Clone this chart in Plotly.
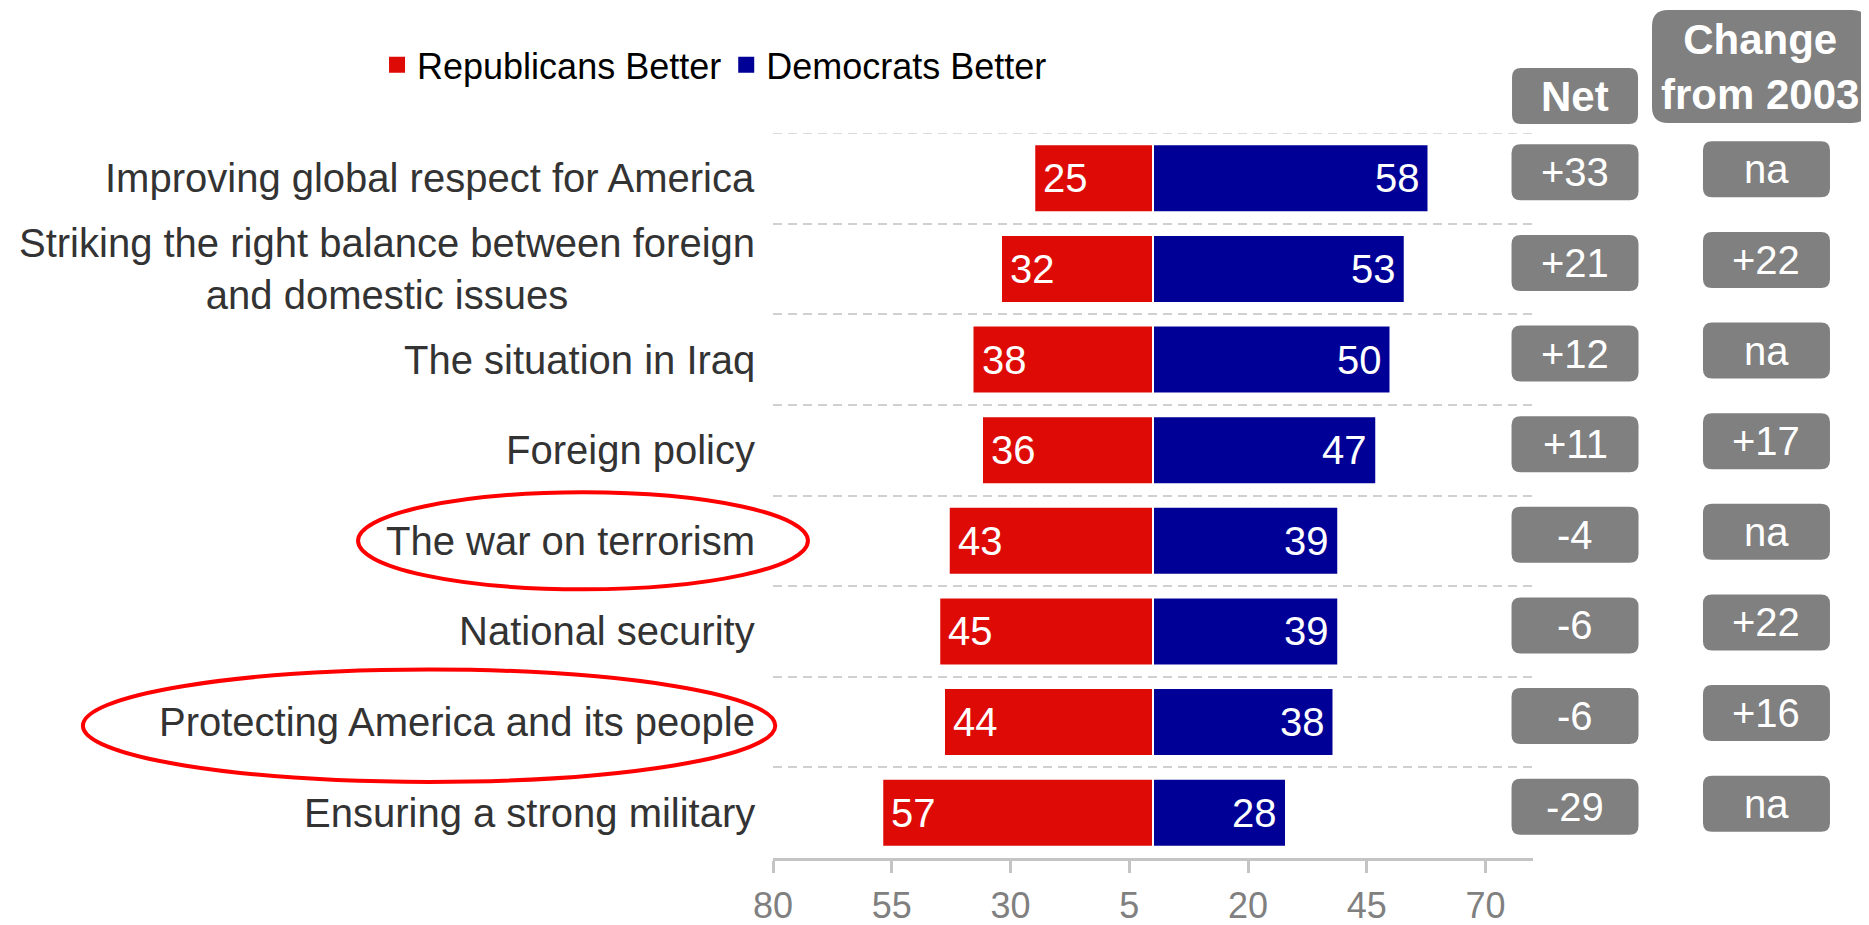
import plotly.graph_objects as go

# ---------------- data ----------------
categories = [
    "Improving global respect for America",
    "Striking the right balance between foreign<br>and domestic issues",
    "The situation in Iraq",
    "Foreign policy",
    "The war on terrorism",
    "National security",
    "Protecting America and its people",
    "Ensuring a strong military",
]
republicans = [25, 32, 38, 36, 43, 45, 44, 57]
democrats = [58, 53, 50, 47, 39, 39, 38, 28]
net_labels = ["+33", "+21", "+12", "+11", "-4", "-6", "-6", "-29"]
change_labels = ["na", "+22", "na", "+17", "na", "+22", "+16", "na"]
tick_values = [-80, -55, -30, -5, 20, 45, 70]
tick_labels = ["80", "55", "30", "5", "20", "45", "70"]
circled = ["The war on terrorism", "Protecting America and its people"]

# ---------------- style ----------------
RED = "#DE0A06"
BLUE = "#000096"
BOXGRAY = "#808080"
AXGRAY = "#c4c4c4"
GRIDGRAY = "#d0d0d0"
FONT = "Liberation Sans, Arial, sans-serif"
# page body has an 8px margin, so the figure is offset by 8px
W, H = 1861, 917
ML, MR, MT, MB = 765, 336, 125, 67

NET_X = 1.0553
CHG_X = 1.3072


def rrect(w, h, r, dy=0.0):
    x0, x1 = -w / 2, w / 2
    y0, y1 = -h / 2 + dy, h / 2 + dy
    return (f"M{x0 + r},{y0} L{x1 - r},{y0} Q{x1},{y0} {x1},{y0 + r} "
            f"L{x1},{y1 - r} Q{x1},{y1} {x1 - r},{y1} L{x0 + r},{y1} "
            f"Q{x0},{y1} {x0},{y1 - r} L{x0},{y0 + r} Q{x0},{y0} {x0 + r},{y0} Z")


fig = go.Figure()
fig.add_trace(go.Bar(
    y=categories, x=[-v for v in republicans], orientation="h",
    name="Republicans Better", showlegend=False,
    marker=dict(color=RED, line=dict(color="white", width=2)),
    hoverinfo="skip",
))
fig.add_trace(go.Bar(
    y=categories, x=democrats, orientation="h",
    name="Democrats Better", showlegend=False,
    marker=dict(color=BLUE, line=dict(color="white", width=2)),
    hoverinfo="skip",
))
# legend entries with square swatches
for name, col in [("Republicans Better", RED), ("Democrats Better", BLUE)]:
    fig.add_trace(go.Scatter(
        x=[None], y=[None], mode="markers", name=name,
        marker=dict(symbol="square", size=16, color=col),
        hoverinfo="skip",
    ))

annotations = []
shapes = []

for i, cat in enumerate(categories):
    # category labels
    annotations.append(dict(
        x=0, xref="paper", y=cat, yref="y", xanchor="right", yanchor="middle",
        xshift=-16, text=cat, showarrow=False, align="center",
        font=dict(family=FONT, size=40, color="#333333"),
    ))
    # bar value labels
    annotations.append(dict(
        x=-republicans[i], xref="x", y=cat, yref="y", xanchor="left", yanchor="middle",
        xshift=7, text=str(republicans[i]), showarrow=False,
        font=dict(family=FONT, size=40, color="white"),
    ))
    annotations.append(dict(
        x=democrats[i], xref="x", y=cat, yref="y", xanchor="right", yanchor="middle",
        xshift=-7, text=str(democrats[i]), showarrow=False,
        font=dict(family=FONT, size=40, color="white"),
    ))
    # net boxes
    shapes.append(dict(
        type="path", xref="paper", yref="y", xsizemode="pixel", ysizemode="pixel",
        xanchor=NET_X, yanchor=cat, path=rrect(127, 56, 9, 6),
        fillcolor=BOXGRAY, line=dict(width=0), layer="above",
    ))
    annotations.append(dict(
        x=NET_X, xref="paper", y=cat, yref="y", xanchor="center", yanchor="middle",
        yshift=6, text=net_labels[i],
        showarrow=False, font=dict(family=FONT, size=40, color="white"),
    ))
    # change boxes
    shapes.append(dict(
        type="path", xref="paper", yref="y", xsizemode="pixel", ysizemode="pixel",
        xanchor=CHG_X, yanchor=cat, path=rrect(127, 56, 9, 9),
        fillcolor=BOXGRAY, line=dict(width=0), layer="above",
    ))
    annotations.append(dict(
        x=CHG_X, xref="paper", y=cat, yref="y", xanchor="center", yanchor="middle",
        yshift=9, text=change_labels[i],
        showarrow=False, font=dict(family=FONT, size=40, color="white"),
    ))

# header boxes
shapes.append(dict(
    type="path", xref="paper", yref="paper", xsizemode="pixel", ysizemode="pixel",
    xanchor=NET_X, yanchor=1.051, path=rrect(126, 56, 9),
    fillcolor=BOXGRAY, line=dict(width=0), layer="above",
))
annotations.append(dict(
    x=NET_X, xref="paper", y=1.051, yref="paper", xanchor="center", yanchor="middle",
    text="<b>Net</b>", showarrow=False,
    font=dict(family=FONT, size=42, color="white"),
))
shapes.append(dict(
    type="path", xref="paper", yref="paper", xsizemode="pixel", ysizemode="pixel",
    xanchor=1.2987, yanchor=1.0917, path=rrect(216, 113, 16),
    fillcolor=BOXGRAY, line=dict(width=0), layer="above",
))
annotations.append(dict(
    x=1.2987, xref="paper", y=1.0917, yref="paper", xanchor="center", yanchor="middle",
    text="<b>Change<br>from 2003</b>", showarrow=False,
    font=dict(family=FONT, size=42, color="white"),
))

# top dashed separator (plotly drops the edge gridline)
shapes.append(dict(
    type="line", xref="paper", yref="y", x0=0, x1=1, y0=-0.5, y1=-0.5,
    line=dict(color=GRIDGRAY, width=1.5, dash="9px,6px"), layer="below",
))

# highlight ellipses
idx1 = categories.index(circled[0])
idx2 = categories.index(circled[1])
shapes.append(dict(
    type="circle", xref="paper", yref="y",
    x0=-0.546, x1=0.046, y0=idx1 - 0.535, y1=idx1 + 0.535,
    line=dict(color="#FF0000", width=4), layer="above",
))
shapes.append(dict(
    type="circle", xref="paper", yref="y",
    x0=-0.908, x1=0.003, y0=idx2 - 0.58, y1=idx2 + 0.66,
    line=dict(color="#FF0000", width=4), layer="above",
))

fig.update_layout(
    width=W, height=H, autosize=False,
    margin=dict(l=ML, r=MR, t=MT, b=MB, autoexpand=False),
    paper_bgcolor="white", plot_bgcolor="white",
    barmode="relative", bargap=0.25,
    font=dict(family=FONT),
    showlegend=True,
    legend=dict(
        orientation="h", x=-0.521, xanchor="left", y=1.094, yanchor="middle",
        font=dict(family=FONT, size=36, color="black"),
        bgcolor="rgba(0,0,0,0)", traceorder="normal",
    ),
    xaxis=dict(
        range=[-80, 80], tickvals=tick_values, ticktext=tick_labels,
        ticks="outside", ticklen=12, tickwidth=3, tickcolor=AXGRAY,
        showline=True, linecolor=AXGRAY, linewidth=3,
        showgrid=False, zeroline=False, ticklabelstandoff=2,
        tickfont=dict(family=FONT, size=36, color=BOXGRAY),
        fixedrange=True, automargin=False,
    ),
    yaxis=dict(
        type="category", range=[len(categories) - 0.5, -0.5],
        showgrid=True, gridcolor=GRIDGRAY, gridwidth=1.5, griddash="9px,6px",
        tickson="boundaries", showticklabels=False, ticks="",
        zeroline=False, showline=False, fixedrange=True, automargin=False,
    ),
    annotations=annotations,
    shapes=shapes,
)

fig.write_html("out.html")
